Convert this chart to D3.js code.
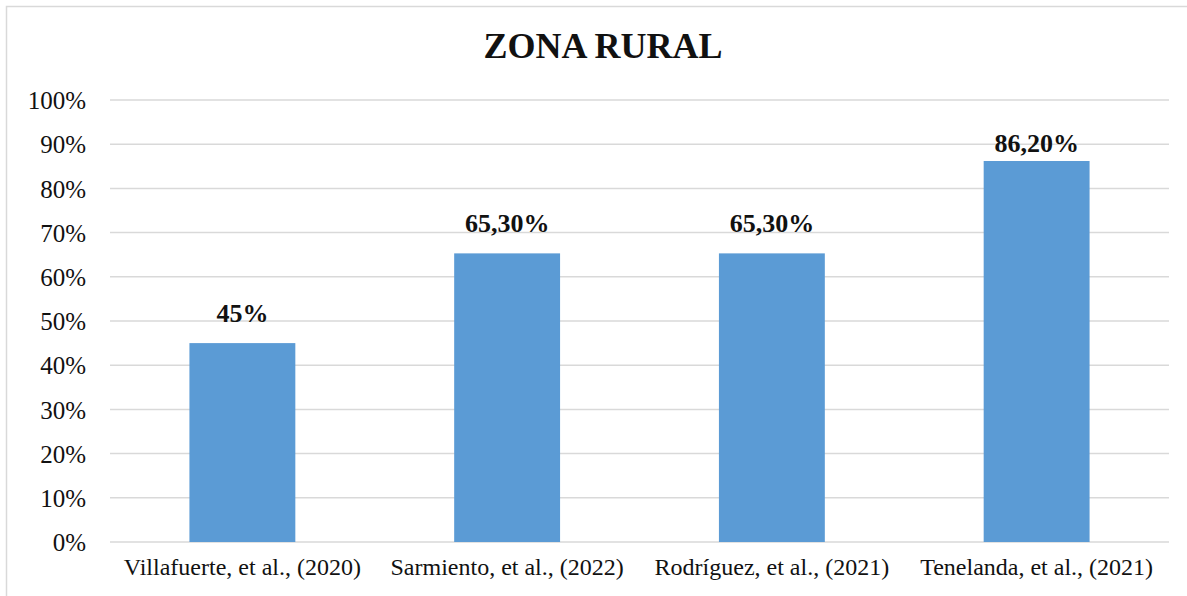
<!DOCTYPE html>
<html>
<head>
<meta charset="utf-8">
<script src="https://cdn.jsdelivr.net/npm/d3@7"></script>
<style>
  body { margin: 0; background: #fff; }
  svg text { font-family: "Liberation Serif", "Times New Roman", Times, "DejaVu Serif", serif; }
</style>
</head>
<body>
<div id="chart"></div>
<script>
// 데이터
const categories = [
  "Villafuerte, et al., (2020)",
  "Sarmiento, et al., (2022)",
  "Rodríguez, et al., (2021)",
  "Tenelanda, et al., (2021)"
];
const values = [0.45, 0.653, 0.653, 0.862];
const valueLabels = ["45%", "65,30%", "65,30%", "86,20%"];
const yTicks = [0, 0.1, 0.2, 0.3, 0.4, 0.5, 0.6, 0.7, 0.8, 0.9, 1.0];
const title = "ZONA RURAL";

const width = 1187;
const height = 596;
const margin = { top: 100, right: 18, bottom: 54, left: 110 };
const serif = '"Liberation Serif", "Times New Roman", Times, "DejaVu Serif", serif';

const svg = d3.select("#chart").append("svg")
  .attr("width", width)
  .attr("height", height);

// 바깥 테두리
svg.append("rect")
  .attr("x", 6.5)
  .attr("y", 6.5)
  .attr("width", width + 10)
  .attr("height", height + 10)
  .attr("fill", "#fff")
  .attr("stroke", "#d9d9d9")
  .attr("stroke-width", 1.5);

const x = d3.scaleBand()
  .domain(categories)
  .range([margin.left, width - margin.right])
  .paddingInner(0.6)
  .paddingOuter(0.3);

const y = d3.scaleLinear()
  .domain([0, 1])
  .range([height - margin.bottom, margin.top]);

// 격자선
svg.append("g")
  .selectAll("line")
  .data(yTicks)
  .enter().append("line")
  .attr("x1", margin.left)
  .attr("x2", width - margin.right)
  .attr("y1", d => y(d))
  .attr("y2", d => y(d))
  .attr("stroke", "#d9d9d9")
  .attr("stroke-width", 1.5);

// y축 눈금 라벨
const yAxis = d3.axisLeft(y)
  .tickValues(yTicks)
  .tickFormat(d => Math.round(d * 100) + "%")
  .tickSize(0)
  .tickPadding(24);

const yg = svg.append("g")
  .attr("transform", `translate(${margin.left},0)`)
  .call(yAxis)
  .attr("font-family", serif);
yg.select(".domain").remove();
yg.selectAll("text")
  .attr("fill", "#111")
  .attr("font-family", serif)
  .attr("font-size", 25)
  .attr("dy", "0.35em");

// 막대
svg.append("g")
  .selectAll("rect")
  .data(values)
  .enter().append("rect")
  .attr("x", (d, i) => x(categories[i]))
  .attr("y", d => y(d))
  .attr("width", x.bandwidth())
  .attr("height", d => y(0) - y(d))
  .attr("fill", "#5b9bd5");

// 값 라벨
svg.append("g")
  .selectAll("text")
  .data(values)
  .enter().append("text")
  .attr("x", (d, i) => x(categories[i]) + x.bandwidth() / 2)
  .attr("y", d => Math.max(y(d) - 21, 152))
  .attr("text-anchor", "middle")
  .attr("fill", "#111")
  .attr("font-family", serif)
  .attr("font-size", 26)
  .attr("font-weight", "bold")
  .text((d, i) => valueLabels[i]);

// x축 라벨
const xAxis = d3.axisBottom(x).tickSize(0).tickPadding(16);
const xg = svg.append("g")
  .attr("transform", `translate(0,${height - margin.bottom})`)
  .call(xAxis)
  .attr("font-family", serif);
xg.select(".domain").remove();
xg.selectAll("text")
  .attr("fill", "#111")
  .attr("font-family", serif)
  .attr("font-size", 24);

// 제목
svg.append("text")
  .attr("x", 603)
  .attr("y", 58)
  .attr("text-anchor", "middle")
  .attr("fill", "#111")
  .attr("font-family", serif)
  .attr("font-size", 36)
  .attr("font-weight", "bold")
  .text(title);
</script>
</body>
</html>
